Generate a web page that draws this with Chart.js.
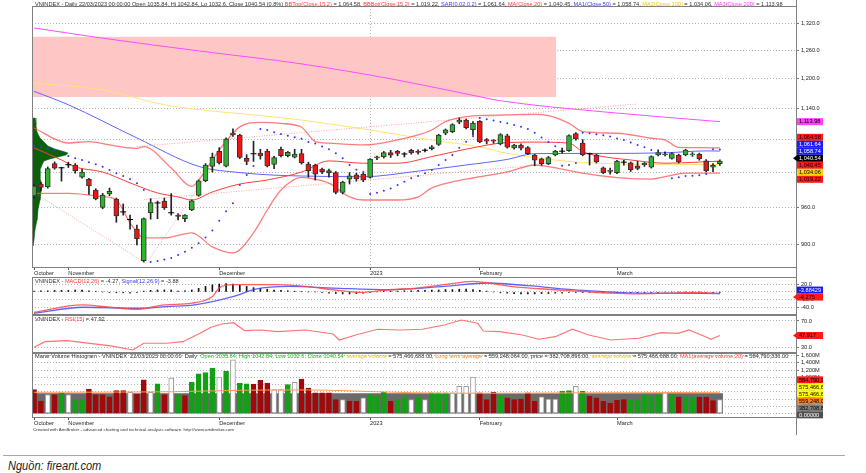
<!DOCTYPE html>
<html>
<head>
<meta charset="utf-8">
<title>VNINDEX</title>
<script src="https://cdn.jsdelivr.net/npm/chart.js@4.4.1/dist/chart.umd.min.js"></script>
<style>
html, body { margin: 0; padding: 0; background: #fff; }
#wrap { position: relative; width: 866px; height: 473px; overflow: hidden; background: #fff; }
#wrap canvas { position: absolute; left: 0; }
#rule { position: absolute; left: 3px; top: 455px; width: 842px; border-top: 1px solid #a8a8a8; }
#src { position: absolute; left: 8px; top: 459px; font: italic 12px "Liberation Sans", Arial, sans-serif; color: #1a1a1a;
  transform: scaleX(0.92); transform-origin: 0 0; white-space: nowrap; }
</style>
</head>
<body>
<div id="wrap">
  <canvas id="cPrice" width="866" height="277" style="top:0px"></canvas>
  <canvas id="cMacd" width="866" height="38" style="top:277px"></canvas>
  <canvas id="cRsi" width="866" height="38" style="top:315px"></canvas>
  <canvas id="cVol" width="866" height="82" style="top:353px"></canvas>
  <div id="rule"></div>
  <div id="src">Nguồn: fireant.com</div>
</div>
<script>
const FONT = '"Liberation Sans", Arial, sans-serif'
Chart.defaults.font.family = FONT
Chart.defaults.font.size = 5.6
Chart.defaults.color = '#222'

// x = session number, 0 = 25/10/2022 ... 100 = 22/03/2023
const X_MIN = -0.3, X_MAX = 111.1
const monthTicks = [0, 5, 27, 49, 65, 85]
const monthLabels = ['October', 'November', 'December', '2023', 'February', 'March']

const opens = [979.5, 1000, 995, 1036, 1028.5, 1034, 1033.5, 1012, 1008, 989.7,
  960.5, 983, 974.5, 953.5, 941, 925, 875.8, 951.7, 967, 971,
  951.5, 947.6, 942, 956.2, 980.7, 1006, 1031, 1058, 1031.5, 1089,
  1088.6, 1045.5, 1053.8, 1055, 1058.5, 1034.4, 1062, 1050.5, 1047.5, 1054,
  1035, 1033.5, 1026, 1023.5, 1020, 985.5, 1008.5, 1016, 1017.5, 1011.5,
  1048, 1048, 1056, 1058, 1053, 1060, 1058, 1059.5, 1063, 1071,
  1092, 1095, 1113, 1117, 1098.5, 1114.6, 1080, 1079, 1071.8, 1087,
  1064.4, 1069.9, 1065, 1051.5, 1044.6, 1036, 1051.5, 1058, 1059.5, 1091,
  1073.5, 1053.8, 1051.5, 1028.6, 1022, 1020, 1038.6, 1037.5, 1032, 1033.4,
  1029.6, 1051.5, 1052, 1045.5, 1051.5, 1051.5, 1051.5, 1052.8, 1041, 1029.6, 1035.84]
const highs = [999, 1003, 1030, 1039, 1029.5, 1038.5, 1036, 1026, 1010, 992,
  984, 993, 976, 966, 947.6, 931.6, 943, 975, 971, 976,
  983.6, 950, 948.5, 973, 1007, 1036, 1055, 1065, 1083, 1100,
  1090, 1052, 1077, 1062, 1062, 1049, 1066, 1058, 1062, 1062,
  1038.5, 1035, 1028, 1026, 1022, 1005, 1020, 1019, 1019, 1045,
  1049.5, 1058, 1060, 1060, 1056, 1062, 1061, 1063, 1069, 1090,
  1100, 1110, 1121, 1119, 1114, 1116, 1082, 1080, 1091, 1090,
  1071, 1072, 1067, 1053, 1046, 1049, 1060, 1064, 1089, 1093,
  1080, 1055, 1053, 1030, 1028, 1042, 1042, 1039, 1040, 1038,
  1050, 1059, 1057, 1056, 1053, 1062, 1056, 1055, 1043, 1036, 1042.84]
const lows = [976, 988, 993, 1026, 1005, 1029, 1019, 1010, 982, 973,
  958, 980, 936, 947.5, 925, 900, 873.8, 941, 941.7, 957,
  947.6, 940, 937, 955, 979, 1004, 1021, 1035, 1030, 1086,
  1045, 1034, 1040, 1044, 1030, 1027, 1048, 1048, 1046, 1035,
  1012, 1007, 1018, 1012, 983, 983, 1000, 1005, 1004, 1010,
  1043, 1046, 1047, 1050, 1048, 1053, 1053, 1057, 1061, 1069,
  1089, 1093, 1110, 1100, 1088, 1074, 1072, 1073, 1070, 1064,
  1062, 1061, 1052, 1032, 1033, 1034, 1050, 1055, 1058, 1079,
  1050, 1033.5, 1037, 1018, 1017, 1018, 1033, 1022, 1025, 1031,
  1028, 1050, 1050, 1044, 1037, 1050, 1049, 1042, 1021, 1021.7, 1032.6]
const closes = [996.6, 994, 1027, 1028, 1028.5, 1034, 1023.5, 1021, 996.6, 974.5,
  981, 987.5, 946.5, 953, 940.5, 910, 941.9, 968.5, 967.8, 960,
  951.5, 945.5, 947.6, 971.5, 1005.5, 1033.5, 1047.5, 1037, 1081, 1092,
  1047, 1040, 1053.8, 1050, 1031.7, 1047, 1050.5, 1056.5, 1053, 1037.7,
  1023.5, 1017, 1021.5, 1020, 985.5, 1003.5, 1014.5, 1009, 1007.1, 1043.9,
  1046.4, 1055.8, 1051.4, 1054.3, 1053.4, 1055.3, 1056.4, 1060.2, 1066.7, 1088.3,
  1098.3, 1108.1, 1117.1, 1102.6, 1111.2, 1076, 1077.1, 1077.2, 1089.3, 1066,
  1069.5, 1063.8, 1053.8, 1042, 1036, 1047, 1058.5, 1058.5, 1087.5, 1081,
  1052, 1053.8, 1039, 1020, 1024.5, 1040.4, 1038.6, 1024.6, 1027.5, 1037,
  1048.5, 1055.8, 1053, 1054, 1039, 1060.6, 1053.8, 1044.5, 1023.5, 1032.9, 1040.54]
const sarValues = [1068.7, 1065.8, 1064, 1060.4, 1056.9, 1049.7, 1045.6, 1042.5, 1038.4, 1034.8,
  1030.5, 1024.6, 1018.7, 1014.1, 1008.8, 1001.3, 989.7, 873.8, 875.5, 877.5,
  880, 884.6, 889.5, 895.6, 902.6, 911.6, 922.6, 938.3, 954, 967.5,
  998.4, 1015.8, 1031.7, 1100, 1098, 1093.8, 1090.3, 1087.3, 1084.3, 1081.4,
  1075.2, 1072.8, 1067.2, 1062.1, 1054.7, 1045.6, 1033.5, 1025, 1021, 983,
  985, 988.5, 992.3, 998.4, 1004, 1010, 1014, 1018.7, 1024.6, 1033.5,
  1042.5, 1051.5, 1065, 1076, 1086, 1121, 1118.5, 1116, 1113.5, 1111,
  1107.5, 1104, 1100, 1093, 1083.8, 1075.2, 1067.6, 1032, 1033.5, 1037,
  1093, 1092, 1090, 1088, 1085.5, 1082, 1079, 1074.7, 1070, 1065.7,
  1060.6, 1060, 1056, 1010, 1012, 1014, 1014.5, 1015.5, 1017.6, 1062, 1061.64]

const ma20Idx = [0, 4, 6, 10, 14, 18, 21, 23, 26, 30, 34, 39, 43, 48, 53, 58, 63, 69, 73, 78, 80, 83, 87, 92, 100]
const ma20Val = [1064.5, 1042.5, 1030, 1021, 1002, 984.7, 978, 972.8, 986.4, 1000, 1007, 1021, 1040.8, 1036.7, 1036.7, 1048.6, 1062.2, 1074.4, 1075.2, 1073.3, 1057.5, 1048.6, 1042.5, 1036.7, 1040.45]
const ma50Idx = [0, 5, 15, 24, 30, 35, 39, 48, 56, 63, 69, 73, 83, 92, 98, 100]
const ma50Val = [1174, 1147, 1083, 1031, 1020, 1015.5, 1014, 1012.7, 1022.6, 1033.5, 1043.5, 1054, 1054.4, 1055.5, 1059, 1058.74]
const ma100Idx = [0, 10, 19, 35, 39, 49, 58, 66, 68, 78, 87, 100]
const ma100Val = [1191, 1177, 1147, 1123, 1117, 1098, 1079, 1064, 1057, 1040, 1035, 1034.06]
const ma200Idx = [0, 10, 24, 39, 53, 65, 68, 83, 100]
const ma200Val = [1310, 1287, 1259, 1231, 1197, 1163, 1155, 1133, 1113.98]
const bbTopIdx = [0, 5, 8, 11, 15, 16, 20, 23, 24, 27, 30, 33, 36, 39, 41, 43, 48, 53, 56, 58, 60, 64, 69, 73, 75, 78, 80, 85, 90, 92, 94, 97, 100]
const bbTopVal = [1101.8, 1073.6, 1076.3, 1069.9, 1063.7, 1066.8, 1028.3, 995.8, 1007, 1060.6, 1104, 1112.6, 1110.6, 1103.3, 1076.3, 1073.3, 1070, 1079.2, 1088.6, 1098, 1114, 1125, 1127, 1128.2, 1125.5, 1110.7, 1094.8, 1091.8, 1082.4, 1079.2, 1065.6, 1064.9, 1064.58]
const bbBotIdx = [0, 5, 10, 12, 14, 16, 19, 23, 26, 29, 32, 34, 36, 39, 41, 43, 46, 48, 53, 56, 58, 61, 64, 69, 73, 75, 80, 85, 90, 92, 95, 100]
const bbBotVal = [984.1, 984.1, 978.4, 972.8, 935.2, 911, 911, 919, 897, 887.6, 919, 956.1, 989.7, 1011.7, 1008.3, 1001.5, 978.1, 972.8, 972.8, 978.1, 993.3, 1003.6, 1010.5, 1021.1, 1033.5, 1030.5, 1019, 1011.3, 1008.5, 1013, 1019, 1019.22]

// hand drawn trend lines [x1, x2], [price1, price2]
const trendLines = [
  [[0, 16], [985, 874]],
  [[16.5, 30], [873, 1106]],
  [[16, 71], [973.6, 1030.5]],
  [[15, 88], [1066.8, 1148.5]]
]
// resistance zone
const zoneX = [X_MIN, 76.1]
const zoneTop = 1290, zoneBottom = 1162.5
// volume at price profile (width in sessions)
const profilePrice = [1121, 1107.6, 1094.3, 1083, 1075.5, 1068, 1062.4, 1058.8, 1055.2, 1051.5, 1047.9, 1044.3, 1040.7, 1033.5, 1024.6, 1010.5, 998.4, 986.3, 972.8, 956.1, 939.7, 923.6, 907.7, 898.4]
const profileWidth = [0.44, 0.58, 0.73, 1.17, 1.75, 2.33, 3.35, 4.37, 5.25, 4.96, 3.79, 2.62, 1.75, 1.46, 1.17, 1.17, 1.46, 1.31, 1.17, 0.87, 0.73, 0.44, 0.29, 0.15]

const macdIdx = [0, 7, 11, 15, 19, 23, 26, 27, 29, 31.5, 35.5, 39.6, 43.6, 47.7, 51.7, 55.8, 59.8, 63.9, 66.3, 69.5, 76, 80, 84.1, 88.2, 92.2, 96.3, 100]
const macdVal = [-51.4, -32.7, -38.6, -43.7, -32.7, -28.4, -11.4, 9.9, 18.4, 18.4, 18.4, 14.1, 5.6, -1.2, 5.6, 9.9, 18.4, 26.9, 22.6, 14.1, 5.6, 1.3, -2.9, -4.6, -2.9, -1.2, -4.27]
const signalIdx = [0, 7.2, 15.3, 19.3, 23.4, 29.1, 32.3, 37.2, 43.6, 51.7, 59.8, 66.3, 72, 80, 88.2, 100]
const signalVal = [-53.9, -38.6, -41.2, -36.9, -32.7, -11.4, 7.4, 14.1, 9.9, 5.6, 14.1, 22.6, 15.8, 3.9, -2.9, -3.88]
const macdHist = [2, 3, 3, 4, 4, 4, 5, 5, 3, 1, 0, -1, -2, -2, -3, -2, 2, 4, 5, 5,
  5, 2, 3, 5, 9, 14, 18, 20, 21, 20, 17, 14, 11, 9, 7, 5, 4, 3, 2, 1,
  0, 0, -1, -3, -4, -5, -5, -4, -3, -2, 0, 1, 2, 2, 3, 3, 4, 4, 5, 5,
  6, 6, 7, 7, 6, 4, 2, 0, -2, -3, -4, -5, -5, -5, -4, -4, -3, -3, -2, -2,
  -1, -1, -1, -2, -2, -2, -2, -2, -2, -1, -1, -1, 0, 0, 0, 0, 0, 0, -1, -1, -0.4]

const rsiIdx = [0, 1.6, 4.9, 7.2, 11.2, 14.4, 16, 19.3, 21.7, 24.2, 25.8, 27.4, 29.1, 30.7, 33.1, 35.5, 39.6, 43.6, 44.5, 46.9, 50.1, 53.4, 56.6, 59.8, 62.3, 64.7, 65.5, 67.9, 71.2, 73.6, 76, 78.5, 80.9, 84.1, 88.2, 91.4, 93.9, 95.5, 97.9, 98.7, 100]
const rsiVal = [30, 38.5, 40, 37, 32, 25.9, 36.1, 36.1, 38.5, 51.3, 60.4, 65.4, 67.4, 55.3, 56.3, 53.7, 56.3, 50.2, 41.1, 48.7, 57.4, 56.3, 57.4, 63.9, 71.5, 66.5, 54.8, 53.7, 48.7, 42.2, 46.1, 57.4, 48.7, 41.1, 43.7, 52.2, 51.3, 56.3, 46.1, 42.2, 47.92]

// volume in millions of shares, colour code g / r / w
const volumes = [658, 337, 520, 520, 567, 520, 384, 384, 676, 520,
  520, 457, 630, 630, 584, 539, 932, 584, 822, 520,
  977, 520, 493, 858, 1096, 1132, 1252, 1005, 1160, 1479,
  840, 822, 813, 912, 840, 658, 658, 795, 858, 950,
  703, 567, 567, 567, 384, 384, 337, 337, 430, 520,
  475, 584, 337, 384, 457, 384, 457, 384, 567, 567,
  567, 567, 749, 749, 1005, 567, 384, 584, 475, 430,
  384, 400, 567, 337, 457, 400, 400, 612, 630, 749,
  612, 475, 430, 337, 290, 360, 384, 360, 384, 520,
  475, 520, 567, 520, 460, 460, 460, 455, 455, 355, 382.7]
const volColors = ('rrwrgwggrr' + 'rrrrwrrwgr' + 'wgrggggwgw' + 'ggrrrwwgwr' + 'rrrrrwrrwg' +
  'ggrggwgwgg' + 'gwwwwrrrgr' + 'rrrrwwwggw' + 'grrrrrrggg' + 'ggwgrggrrr' + 'w').split('')
const longTermIdx = [X_MIN, 100.45]
const longTermVal = [559, 559.25]
const avgVolIdx = [0, 20, 30, 40, 50, 60, 70, 80, 90, 100]
const avgVolVal = [585, 600, 640, 650, 600, 560, 560, 570, 575, 584.79]

const priceTicks = [900, 960, 1020, 1080, 1140, 1200, 1260, 1320]
const macdTicks = [20, 0, -20, -40]
const rsiTicks = [70, 30]
const volTicks = [0, 200, 400, 600, 800, 1000, 1200, 1400, 1600]

const GREEN = '#2cb52c', RED = '#f01414', DOJI = 1.0

function pts(xs, ys) {
  return xs.map((x, k) => ({x: x, y: ys[k]}))
}
function fmt(v, d) {
  return v.toLocaleString('en-US', {minimumFractionDigits: d, maximumFractionDigits: d})
}
function last(a) {
  return a[a.length - 1]
}

const priceTitle = [
  ['VNINDEX - Daily 22/03/2023 00:00:00 Open 1035.84, Hi 1042.84, Lo 1032.6, Close 1040.54 (0.8%) ', '#333'],
  ['BBTop(Close,15,2)', '#ff3a3a'], [' = 1,064.58, ', '#333'],
  ['BBBot(Close,15,2)', '#ff3a3a'], [' = 1,019.22, ', '#333'],
  ['SAR(0.02,0.2)', '#3a3aff'], [' = 1,061.64, ', '#333'],
  ['MA(Close,20)', '#ff3a3a'], [' = 1,040.45, ', '#333'],
  ['MA1(Close,50)', '#3a3aff'], [' = 1,058.74, ', '#333'],
  ['MA2(Close,100)', '#f2cc00'], [' = 1,034.06, ', '#333'],
  ['MA3(Close,200)', '#ff3aff'], [' = 1,113.98', '#333']
]
const macdTitle = [['VNINDEX - ', '#333'], ['MACD(12,26)', '#ff3a3a'], [' = -4.27, ', '#333'],
  ['Signal(12,26,9)', '#3a3aff'], [' = -3.88', '#333']]
const rsiTitle = [['VNINDEX - ', '#333'], ['RSI(15)', '#ff3a3a'], [' = 47.92', '#333']]
const volTitle = [['Marar Volume Histogram - VNINDEX  22/03/2023 00:00:00  Daily  ', '#333'],
  ['Open 1035.84, High 1042.84, Low 1032.6, Close 1040.54', '#22bb22'], ['  ', '#333'],
  ['average volume', '#e0d000'], [' = 575,466,688.00, ', '#333'],
  ['Long term average', '#ff7f27'], [' = 559,248,064.00, price = 382,708,896.00, ', '#333'],
  ['average volume', '#e0d000'], [' = 575,466,688.00, ', '#333'],
  ['MA1(average volume,20)', '#ff4a4a'], [' = 584,790,336.00', '#333']]

// header font size fitted to the width of the price header
const titleSize = (function () {
  const c = document.createElement('canvas').getContext('2d')
  c.font = '10px ' + FONT
  let w = 0
  priceTitle.forEach(s => { w += c.measureText(s[0]).width })
  return 10 * 748 / w
})()

const panelInfo = {
  cPrice: {
    title: priceTitle, titleY: 4,
    badges: [
      {v: last(ma200Val), t: fmt(last(ma200Val), 2), bg: '#ff40ff', fg: '#000'},
      {v: last(bbTopVal), t: fmt(last(bbTopVal), 2), bg: '#ff1a1a', fg: '#000'},
      {v: last(sarValues), t: fmt(last(sarValues), 2), bg: '#1a1aff', fg: '#fff'},
      {v: last(ma50Val), t: fmt(last(ma50Val), 2), bg: '#1a1aff', fg: '#fff'},
      {v: last(closes), t: fmt(last(closes), 2), bg: '#000', fg: '#fff', arrow: true},
      {v: last(ma20Val), t: fmt(last(ma20Val), 2), bg: '#ff1a1a', fg: '#000'},
      {v: last(ma100Val), t: fmt(last(ma100Val), 2), bg: '#ffd200', fg: '#000'},
      {v: last(bbBotVal), t: fmt(last(bbBotVal), 2), bg: '#ff1a1a', fg: '#000'}
    ]
  },
  cMacd: {
    title: macdTitle, titleY: 4.5,
    badges: [
      {v: last(signalVal), t: '-3.88429', bg: '#1a1aff', fg: '#fff'},
      {v: last(macdVal), t: '-4.275', bg: '#ff1a1a', fg: '#000', arrow: true}
    ]
  },
  cRsi: {
    title: rsiTitle, titleY: 4,
    badges: [{v: last(rsiVal), t: '47.917', bg: '#ff1a1a', fg: '#000', arrow: true}]
  },
  cVol: {
    title: volTitle, titleY: 3,
    badges: [
      {v: last(avgVolVal), t: '584,790,336.00', bg: '#ff1a1a', fg: '#000'},
      {v: 575.47, t: '575,466,688.00', bg: '#ffff00', fg: '#000'},
      {v: 575.46, t: '575,466,688.00', bg: '#ffff00', fg: '#000'},
      {v: last(longTermVal), t: '559,248,064.00', bg: '#ff7f27', fg: '#000'},
      {v: last(volumes), t: '382,708,896.00', bg: '#808080', fg: '#000'},
      {v: 0, t: '0.00000', bg: '#505050', fg: '#fff'}
    ],
    footer: 'Created with AmiBroker - advanced charting and technical analysis software. http://www.amibroker.com'
  }
}

function stackBadges(items, h) {
  items.sort((a, b) => a.px - b.px)
  let groups = items.map(it => ({items: [it], sum: it.px}))
  let merged = true
  while (merged) {
    merged = false
    for (let i = 0; i < groups.length - 1; i++) {
      const g1 = groups[i], g2 = groups[i + 1]
      const c1 = g1.sum / g1.items.length, c2 = g2.sum / g2.items.length
      if (c1 + g1.items.length * h / 2 > c2 - g2.items.length * h / 2) {
        groups.splice(i, 2, {items: g1.items.concat(g2.items), sum: g1.sum + g2.sum})
        merged = true
        break
      }
    }
  }
  groups.forEach(g => {
    const n = g.items.length, c = g.sum / n
    g.items.forEach((it, k) => { it.y = c - (n - 1) * h / 2 + k * h })
  })
}

const amiPlugin = {
  id: 'ami',
  afterDraw(chart) {
    const info = panelInfo[chart.canvas.id]
    const ctx = chart.ctx, a = chart.chartArea
    ctx.save()
    // pane frame
    ctx.strokeStyle = '#808080'
    ctx.lineWidth = 1
    ctx.beginPath()
    ctx.moveTo(a.left + 0.5, a.top); ctx.lineTo(a.left + 0.5, a.bottom)
    ctx.moveTo(a.left, a.top + 0.5); ctx.lineTo(a.right, a.top + 0.5)
    ctx.moveTo(a.left, a.bottom - 0.5); ctx.lineTo(a.right, a.bottom - 0.5)
    ctx.moveTo(a.right + 0.5, 0); ctx.lineTo(a.right + 0.5, chart.height)
    ctx.stroke()
    // title
    ctx.font = titleSize + 'px ' + FONT
    ctx.textBaseline = 'middle'
    let x = a.left + 3
    info.title.forEach(s => {
      ctx.fillStyle = s[1]
      ctx.fillText(s[0], x, info.titleY)
      x += ctx.measureText(s[0]).width
    })
    // last value badges
    const ys = chart.scales.y, h = 7, bx = a.right + 1, bw = 26
    const items = info.badges.map(b => Object.assign({px: ys.getPixelForValue(b.v)}, b))
    stackBadges(items, h)
    ctx.font = '5.6px ' + FONT
    items.forEach(it => {
      ctx.fillStyle = it.bg
      ctx.fillRect(bx, it.y - h / 2, bw, h)
      if (it.arrow) {
        ctx.beginPath()
        ctx.moveTo(bx - 4, it.y); ctx.lineTo(bx, it.y - 3); ctx.lineTo(bx, it.y + 3)
        ctx.closePath(); ctx.fill()
      }
      ctx.save()
      ctx.beginPath(); ctx.rect(bx, it.y - h / 2, bw, h); ctx.clip()
      ctx.fillStyle = it.fg
      ctx.fillText(it.t, bx + 2, it.y + 0.3)
      ctx.restore()
    })
    if (info.footer) {
      ctx.font = '4.4px ' + FONT
      ctx.fillStyle = '#333'
      ctx.fillText(info.footer, a.left + 1, 77)
    }
    ctx.restore()
  }
}

function xScale(show, labelH) {
  return {
    type: 'linear', min: X_MIN, max: X_MAX, offset: false, display: show,
    afterBuildTicks: s => { s.ticks = monthTicks.map(v => ({value: v})) },
    afterFit: s => { s.height = labelH; s.paddingLeft = 0; s.paddingRight = 0 },
    ticks: {autoSkip: false, maxRotation: 0, align: 'start', padding: 0, color: '#222',
      callback: (v, i) => monthLabels[i]},
    grid: {drawOnChartArea: false, drawTicks: true, tickLength: 2, tickColor: '#555', offset: false},
    border: {display: false}
  }
}
function yScale(type, min, max, ticks, format) {
  return {
    type: type, position: 'right', min: min, max: max,
    afterBuildTicks: s => { s.ticks = ticks.map(v => ({value: v})) },
    afterFit: s => { s.width = 70; s.paddingTop = 0; s.paddingBottom = 0 },
    ticks: {autoSkip: false, padding: 2, color: '#222', callback: format},
    grid: {color: '#b4b4b4', tickColor: '#777', tickLength: 3},
    border: {display: false, dash: [1, 2]}
  }
}
const baseOptions = {
  responsive: false, animation: false, events: [],
  plugins: {legend: {display: false}, tooltip: {enabled: false}}
}
function line(data, color, width, order, extra) {
  return Object.assign({type: 'line', data: data, borderColor: color, borderWidth: width,
    pointRadius: 0, fill: false, cubicInterpolationMode: 'monotone', order: order}, extra || {})
}

// ---------- price pane ----------
const idx = closes.map((c, i) => i)
const isDoji = i => Math.abs(closes[i] - opens[i]) < DOJI
const priceSets = [
  line(pts(zoneX, [zoneTop, zoneTop]), 'rgba(0,0,0,0)', 0, 30),
  line(pts(zoneX, [zoneBottom, zoneBottom]), 'rgba(0,0,0,0)', 0, 29, {fill: '-1', backgroundColor: '#ffc6c6'}),
  line([{x: X_MIN, y: profilePrice[0]}].concat(pts(profileWidth.map(w => X_MIN + w), profilePrice),
      [{x: X_MIN, y: last(profilePrice)}]), '#0a5c0a', 0.5, 28,
    {fill: 'shape', backgroundColor: '#0b610b', cubicInterpolationMode: 'default', tension: 0}),
  line(pts(ma200Idx, ma200Val), '#ff4dff', 1, 20),
  line(pts(ma100Idx, ma100Val), '#ffe27a', 1, 19),
  line(pts(ma50Idx, ma50Val), '#6262ff', 1, 18),
  line(pts(bbTopIdx, bbTopVal), 'rgba(255,80,80,0.75)', 1.3, 17),
  line(pts(bbBotIdx, bbBotVal), 'rgba(255,80,80,0.75)', 1.3, 16),
  line(pts(ma20Idx, ma20Val), '#ff3c3c', 1, 15)
]
trendLines.forEach(t => {
  priceSets.push(line(pts(t[0], t[1]), 'rgba(255,110,110,0.8)', 0.8, 14, {borderDash: [1, 1.5]}))
})
priceSets.push(
  {type: 'scatter', data: pts(idx, sarValues), pointRadius: 1, pointBackgroundColor: '#3535ff',
    pointBorderWidth: 0, order: 10},
  {type: 'bar', data: idx.map(i => ({x: i, y: [lows[i], highs[i]]})), backgroundColor: '#222',
    barThickness: 1, grouped: false, order: 3},
  {type: 'bar', data: idx.map(i => ({x: i, y: [Math.min(opens[i], closes[i]), Math.max(opens[i], closes[i])]})),
    backgroundColor: idx.map(i => isDoji(i) ? 'rgba(0,0,0,0)' : (closes[i] > opens[i] ? GREEN : RED)),
    borderColor: idx.map(i => isDoji(i) ? 'rgba(0,0,0,0)' : '#333'),
    borderWidth: 1, borderSkipped: false, barThickness: 5, grouped: false, order: 2},
  {type: 'scatter', data: idx.filter(isDoji).map(i => ({x: i, y: closes[i]})), pointStyle: 'line',
    pointRadius: 3, pointBorderColor: '#000', pointBorderWidth: 1, order: 1}
)
const priceX = xScale(true, 9)
priceX.grid.drawOnChartArea = true
priceX.grid.color = c => (c.tick && c.tick.value === 49) ? '#b4b4b4' : 'rgba(0,0,0,0)'
priceX.border = {display: false, dash: [1, 2]}
new Chart(document.getElementById('cPrice'), {
  type: 'bar',
  data: {datasets: priceSets},
  options: Object.assign({}, baseOptions, {
    layout: {padding: {left: 32, right: 0, top: 6, bottom: 0}},
    scales: {x: priceX, y: yScale('logarithmic', 864.8, 1360.7, priceTicks, v => fmt(v, 1))}
  }),
  plugins: [amiPlugin]
})

// ---------- MACD pane ----------
new Chart(document.getElementById('cMacd'), {
  type: 'bar',
  data: {datasets: [
    {type: 'bar', data: pts(idx, macdHist), backgroundColor: '#111', barThickness: 1, grouped: false, order: 3},
    line(pts(signalIdx, signalVal), 'rgba(70,70,255,0.85)', 1.3, 2),
    line(pts(macdIdx, macdVal), 'rgba(255,70,70,0.85)', 1.3, 1)
  ]},
  options: Object.assign({}, baseOptions, {
    layout: {padding: {left: 32, right: 0, top: 0, bottom: 0}},
    scales: {x: xScale(false, 0), y: yScale('linear', -58.2, 37.8, macdTicks, v => fmt(v, 1))}
  }),
  plugins: [amiPlugin]
})

// ---------- RSI pane ----------
new Chart(document.getElementById('cRsi'), {
  type: 'line',
  data: {datasets: [line(pts(rsiIdx, rsiVal), 'rgba(255,90,90,0.85)', 1.2, 1, {cubicInterpolationMode: 'default', tension: 0})]},
  options: Object.assign({}, baseOptions, {
    layout: {padding: {left: 32, right: 0, top: 0, bottom: 0}},
    scales: {x: xScale(false, 0), y: yScale('linear', 21.3, 79.1, rsiTicks, v => fmt(v, 1))}
  }),
  plugins: [amiPlugin]
})

// ---------- volume pane ----------
const volFill = {g: '#14a014', r: '#a00a0a', w: '#ffffff'}
new Chart(document.getElementById('cVol'), {
  type: 'bar',
  data: {datasets: [
    line(pts(longTermIdx, longTermVal), '#6a6a6a', 0, 5, {fill: 'origin', backgroundColor: '#6a6a6a', stepped: true}),
    {type: 'bar', data: pts(idx, volumes), backgroundColor: idx.map(i => volFill[volColors[i]]),
      borderColor: idx.map(i => volColors[i] === 'w' ? '#9a9a9a' : volFill[volColors[i]]),
      borderWidth: 1, borderSkipped: false, barThickness: 5, grouped: false, order: 3},
    line(pts(avgVolIdx, avgVolVal), '#ff9a5a', 1, 1)
  ]},
  options: Object.assign({}, baseOptions, {
    layout: {padding: {left: 32, right: 0, top: 0, bottom: 0}},
    scales: {x: xScale(true, 17), y: yScale('linear', -124, 1669, volTicks, v => v.toLocaleString('en-US') + 'M')}
  }),
  plugins: [amiPlugin]
})
</script>
</body>
</html>
